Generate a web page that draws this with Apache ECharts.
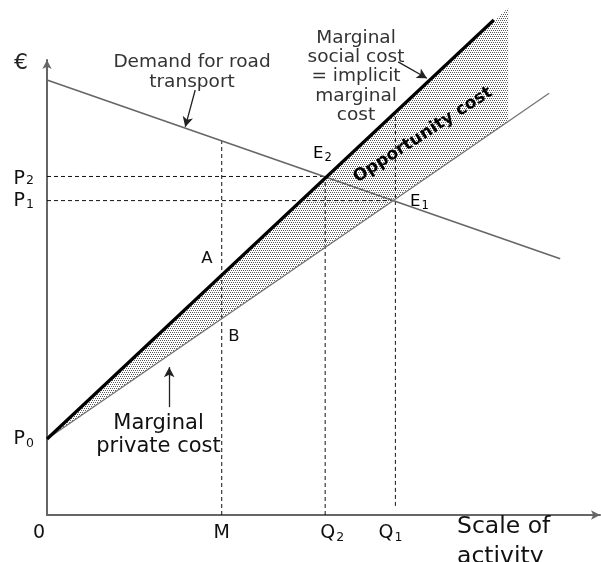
<!DOCTYPE html>
<html>
<head>
<meta charset="utf-8">
<script src="https://cdn.jsdelivr.net/npm/echarts@6/dist/echarts.min.js"></script>
<style>html,body{margin:0;padding:0;background:#fff}#c{width:601px;height:562px}</style>
</head>
<body>
<div id="c"></div>
<script>
// ---- data (abstract units: quantity 0-100, price 0-100) ----
var demand = [[0, 95.6], [92.8, 56.3]];
var msc = [[0, 16.7], [80.8, 108.8]];
var mpc = [[0, 16.7], [90.8, 92.7]];
var opportunityArea = [[0, 16.7], [83.4, 111.5], [83.4, 86.5]];
var guideM = [[31.6, 0], [31.6, 82.2]];
var guideQ2 = [[50.3, 0], [50.3, 74.4]];
var guideQ1 = [[63, 2.0], [63, 88]];
var guideP2 = [[0, 74.4], [50.3, 74.4]];
var guideP1 = [[0, 69.1], [63, 69.1]];
var arrowDemand = [[26.8, 93.4], [25.0, 85.3]];
var arrowMSC = [[63.5, 99.6], [68.7, 96.0]];
var arrowMPC = [[22.1, 23.7], [22.1, 32.5]];
var xTickValues = [0, 31.6, 50.3, 63];
var xTickLabels = ['0', 'M', 'Q2', 'Q1'];
var yTickValues = [16.7, 69.1, 74.4];
var yTickLabels = ['P0', 'P1', 'P2'];

var FONT = 'DejaVu Sans';

function makePattern() {
  var c = document.createElement('canvas');
  c.width = 4; c.height = 4;
  var g = c.getContext('2d');
  g.fillStyle = '#ffffff'; g.fillRect(0, 0, 4, 4);
  g.fillStyle = '#5a5a5a';
  [[0, 0], [2, 0], [1, 2], [3, 2]].forEach(function (p) { g.fillRect(p[0], p[1], 1, 1); });
  return c;
}
var pattern = makePattern();

function nearestIndex(arr, v) {
  var best = 0;
  for (var i = 1; i < arr.length; i++) if (Math.abs(arr[i] - v) < Math.abs(arr[best] - v)) best = i;
  return best;
}
function tickRich(name, i) {
  var m = /^([A-Z])(\d)$/.exec(name);
  if (m) return '{b' + i + '|' + m[1] + '}{s|' + m[2] + '}{e' + i + '|}';
  return '{b' + i + '|' + name + '}{e' + i + '|}';
}

var subStyle = { fontFamily: FONT, fontSize: 12.5, lineHeight: 14, color: '#111', padding: [9, 0, 0, 1] };

var xRich = { s: subStyle };
var xPadL = [0, 0, 14, 0], xPadR = [16, 0, 0, 10];
for (var i = 0; i < 4; i++) {
  xRich['b' + i] = { fontFamily: FONT, fontSize: 19, lineHeight: 20, color: '#111', padding: [0, 0, 0, xPadL[i]] };
  xRich['e' + i] = { width: xPadR[i], fontSize: 1 };
}
var yRich = { s: subStyle };
var yPadT = [0, 0, 5];
for (var j = 0; j < 3; j++) {
  yRich['b' + j] = { fontFamily: FONT, fontSize: 19, lineHeight: 20, color: '#111', padding: [yPadT[j], 0, 0, 0] };
  yRich['e' + j] = { width: 0, fontSize: 1 };
}

function lineSeries(data, color, width, type) {
  return {
    type: 'line', data: data, symbol: 'none', clip: false, silent: true, z: 3,
    lineStyle: { color: color, width: width, type: type || 'solid' }
  };
}
function arrowItem(a) {
  return [{ coord: a[0] }, { coord: a[1] }];
}

var chart = echarts.init(document.getElementById('c'), null, { renderer: 'canvas' });
chart.setOption({
  animation: false,
  backgroundColor: '#ffffff',
  grid: { left: 47, right: 1, top: 60, bottom: 47, containLabel: false, outerBoundsMode: 'none' },
  xAxis: {
    type: 'value', min: 0, max: 100,
    axisLine: { show: true, onZero: false, symbol: ['none', 'arrow'], symbolSize: [7, 9], lineStyle: { color: '#666', width: 2 } },
    axisTick: { show: false },
    splitLine: { show: false },
    axisLabel: {
      show: true, customValues: xTickValues, margin: 8,
      formatter: function (v) { var k = nearestIndex(xTickValues, v); return tickRich(xTickLabels[k], k); },
      rich: xRich
    }
  },
  yAxis: {
    type: 'value', min: 0, max: 100,
    axisLine: { show: true, onZero: false, symbol: ['none', 'arrow'], symbolSize: [7, 9], lineStyle: { color: '#666', width: 2 } },
    axisTick: { show: false },
    splitLine: { show: false },
    axisLabel: {
      show: true, customValues: yTickValues, margin: 13,
      formatter: function (v) { var k = nearestIndex(yTickValues, v); return tickRich(yTickLabels[k], k); },
      rich: yRich
    }
  },
  series: [
    {
      type: 'custom', coordinateSystem: 'cartesian2d', clip: false, silent: true, z: 1,
      data: [[0, 0]],
      renderItem: function (params, api) {
        var pts = opportunityArea.map(function (p) { return api.coord(p); });
        return { type: 'polygon', shape: { points: pts }, style: { fill: { image: pattern, repeat: 'repeat' }, stroke: null } };
      }
    },
    lineSeries(guideM, '#111', 1, [4, 3]),
    lineSeries(guideQ2, '#111', 1, [4, 3]),
    lineSeries(guideQ1, '#111', 1, [4, 3]),
    lineSeries(guideP2, '#111', 1, [4, 3]),
    lineSeries(guideP1, '#111', 1, [4, 3]),
    lineSeries(demand, '#666', 1.6),
    lineSeries(mpc, '#777', 1.4),
    Object.assign(lineSeries(msc, '#000', 3.2), {
      markLine: {
        silent: true, symbol: ['none', 'arrow'], symbolSize: [8, 10], animation: false,
        label: { show: false },
        lineStyle: { color: '#222', width: 1.3, type: 'solid' },
        emphasis: { disabled: true },
        data: [arrowItem(arrowDemand), arrowItem(arrowMSC), arrowItem(arrowMPC)]
      }
    })
  ],
  graphic: {
    elements: [
      { type: 'text', z: 100, x: 21, y: 63, style: { text: '€', font: '22px "DejaVu Sans"', fill: '#222', align: 'center', verticalAlign: 'middle' } },
      { type: 'text', z: 100, x: 192, y: 72, style: { text: 'Demand for road\ntransport', font: '18.5px "DejaVu Sans"', lineHeight: 19.5, fill: '#333', align: 'center', verticalAlign: 'middle' } },
      { type: 'text', z: 100, x: 356, y: 76.5, style: { text: 'Marginal\nsocial cost\n= implicit\nmarginal\ncost', font: '18.5px "DejaVu Sans"', lineHeight: 19.3, fill: '#333', align: 'center', verticalAlign: 'middle' } },
      { type: 'text', z: 100, x: 423, y: 135, rotation: 33 * Math.PI / 180, style: { text: 'Opportunity cost', font: 'bold 17px "DejaVu Sans"', fill: '#000', align: 'center', verticalAlign: 'middle' } },
      { type: 'text', z: 100, x: 313, y: 154, style: { text: '{b|E}{s|2}', align: 'left', verticalAlign: 'middle', rich: { b: { fontFamily: FONT, fontSize: 16.5, lineHeight: 18, color: '#111' }, s: { fontFamily: FONT, fontSize: 11.5, lineHeight: 13, color: '#111', padding: [8, 0, 0, 1] } } } },
      { type: 'text', z: 100, x: 410, y: 202, style: { text: '{b|E}{s|1}', align: 'left', verticalAlign: 'middle', rich: { b: { fontFamily: FONT, fontSize: 16.5, lineHeight: 18, color: '#111' }, s: { fontFamily: FONT, fontSize: 11.5, lineHeight: 13, color: '#111', padding: [8, 0, 0, 1] } } } },
      { type: 'text', z: 100, x: 207, y: 259, style: { text: 'A', font: '16.5px "DejaVu Sans"', fill: '#111', align: 'center', verticalAlign: 'middle' } },
      { type: 'text', z: 100, x: 234, y: 337, style: { text: 'B', font: '16.5px "DejaVu Sans"', fill: '#111', align: 'center', verticalAlign: 'middle' } },
      { type: 'text', z: 100, x: 158.5, y: 435.5, style: { text: 'Marginal\nprivate cost', font: '21px "DejaVu Sans"', lineHeight: 23, fill: '#111', align: 'center', verticalAlign: 'middle' } },
      { type: 'text', z: 100, x: 457, y: 542, style: { text: 'Scale of\nactivity', font: '23.5px "DejaVu Sans"', lineHeight: 30, fill: '#111', align: 'left', verticalAlign: 'middle' } }
    ]
  }
});
</script>
</body>
</html>
